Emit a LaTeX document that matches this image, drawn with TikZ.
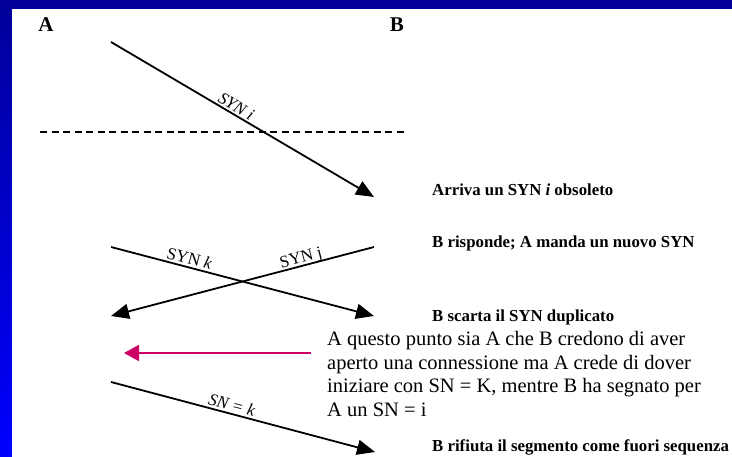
\documentclass[tikz,border=0pt]{standalone}
\usepackage{fontspec}
\setmainfont{Liberation Serif}
\usetikzlibrary{arrows.meta}
\definecolor{topblue}{HTML}{000099}
\definecolor{botblue}{HTML}{0000FF}
\definecolor{mag}{HTML}{CC0066}
\begin{document}
\begin{tikzpicture}[x=1pt,y=-1pt,
  msg/.style={line width=1.8pt,-{Triangle[length=18pt,width=15pt]}},
  lbl/.style={font=\fontsize{17}{18}\selectfont,sloped,inner sep=0pt,anchor=base},
  captxt/.style={font=\bfseries\fontsize{16.8}{18}\selectfont,anchor=base west,inner sep=0pt},
  hd/.style={font=\bfseries\fontsize{21}{22}\selectfont,inner sep=0pt,anchor=base}]
\useasboundingbox (0,0) rectangle (732,457);
\shade[top color=topblue,bottom color=botblue] (0,0) rectangle (732,457);
\fill[topblue] (0,0) rectangle (732,9);
\fill[white] (12,9) rectangle (732,457);
% hosts
\node[hd] (A) at (46,32) {A};
\node[hd] (B) at (397,32) {B};
% endpoints
\coordinate (a1) at (111,42);
\coordinate (b1) at (374,197);
\coordinate (a2) at (111,247);
\coordinate (b2) at (374,316);
\coordinate (b3) at (374,247);
\coordinate (a3) at (111,316);
\coordinate (a4) at (111,382);
\coordinate (b4) at (375,452);
\coordinate (m1) at (311,353);
\coordinate (m2) at (124,353);
\coordinate (d1) at (40,132);
\coordinate (d2) at (404,132);
% dashed line
\draw[line width=1.8pt,dash pattern=on 7pt off 4.5pt] (d1) -- (d2);
% messages
\draw[msg] (a1) -- node[lbl,pos=0.46,yshift=3pt]{\textit{SYN i}} (b1);
\draw[msg] (a2) -- node[lbl,pos=0.29,yshift=3pt]{SYN \textit{k}} (b2);
\draw[msg] (b3) -- node[lbl,pos=0.27,yshift=3pt]{SYN j} (a3);
\draw[msg] (a4) -- node[lbl,pos=0.45,yshift=3pt]{\textit{SN = k}} (b4);
\draw[mag,line width=1.8pt,-{Triangle[length=15pt,width=16pt]}] (m1) -- (m2);
% captions
\node[captxt] (c1) at (432,196) {Arriva un SYN \textit{i} obsoleto};
\node[captxt] (c2) at (432,248) {B risponde; A manda un nuovo SYN};
\node[captxt] (c3) at (432,322) {B scarta il SYN duplicato};
\node[captxt] (c4) at (432,452) {B rifiuta il segmento come fuori sequenza};
\node[anchor=north west,inner sep=0pt,align=left,font=\fontsize{20.5}{23.7}\selectfont] (note) at (327,331)
  {A questo punto sia A che B credono di aver\\aperto una connessione ma A crede di dover\\iniziare con SN = K, mentre B ha segnato per\\A un SN = i};
\end{tikzpicture}
\end{document}
